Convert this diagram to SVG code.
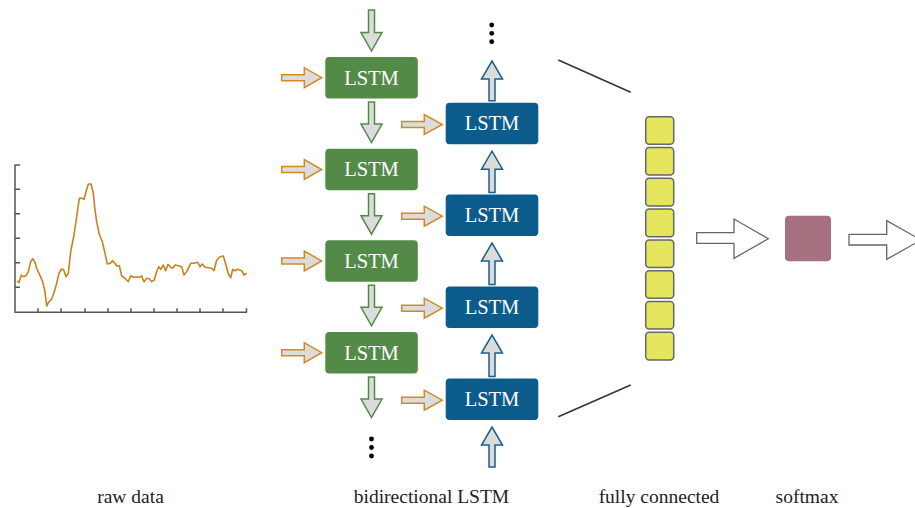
<svg xmlns="http://www.w3.org/2000/svg" width="915" height="508" viewBox="0 0 915 508">
<style>
.lbl{font-family:"Liberation Serif","Times New Roman",serif;font-size:19.5px;fill:#222;text-anchor:middle}
.lt{font-family:"Liberation Serif","Times New Roman",serif;font-size:20.5px;fill:#fff;text-anchor:middle}
.gbox{fill:#538a48}
.bbox{fill:#0b5b8c}
.ga{fill:#dcdcdc;stroke:#4f8a47;stroke-width:1.5;stroke-linejoin:miter}
.ba{fill:#dcdcdc;stroke:#1b5f8d;stroke-width:1.5}
.oa{fill:#dcdcdc;stroke:#d38a22;stroke-width:1.5}
.wa{fill:#fff;stroke:#666;stroke-width:1.3}
.fc{fill:#e6e65e;stroke:#666;stroke-width:1.5}
.ax{stroke:#555;stroke-width:1.5;fill:none}
.dot{fill:#000}
</style>
<rect width="915" height="508" fill="#fff"/>

<g id="raw-data">
<path class="ax" d="M15,164.5V312.3H247 M15,165h5 M15,189.3h5 M15,213.7h5 M15,238.3h5 M15,262.7h5 M15,287.3h5 M38,312.3v-4 M61,312.3v-4 M85,312.3v-4 M108,312.3v-4 M131,312.3v-4 M154,312.3v-4 M177,312.3v-4 M200,312.3v-4 M223,312.3v-4 M246.5,312.3v-4"/>
<polyline fill="none" stroke="#c8821f" stroke-width="1.6" stroke-linejoin="round" points="17.3,280.7 19,282.7 21.3,275 23.3,276.7 26,275.7 28.3,271.7 30.7,261.7 32.7,258.7 34.7,261.7 36.7,268.3 39,273.3 42.3,280.7 44.7,290 46.7,306 49,301.7 51.7,299 54.3,291.7 56.7,283.3 59,273.3 61.7,269 63.7,270 66,276.7 68.3,273.3 70.7,251.7 74,235 76.7,216.7 79.3,198.3 82,198.3 84,199.3 86,191.7 88.3,184 91,184 93.3,193.3 95,210 96.7,221.7 99,233.3 102.3,241.7 105,253.3 107.3,264 110,263.3 112.7,260.7 115,263.3 116.7,266 119.3,265.7 121.7,276 125,278.3 128.3,281.7 130.7,275.7 133.3,277.3 136.7,276.7 139.3,277.3 141.7,276 144,281.7 146.7,278.3 149.3,278.7 151.7,281.7 154.3,280 156.7,271.7 158.7,266.7 160.7,269.3 163.3,265 165.7,270.7 168,264.3 170.7,267.3 172.7,268.3 175.3,265 178.3,265.7 181.7,266.7 184,275 186.7,271.7 190.7,263.3 194,263.3 197.7,262.3 200,266.7 202.3,264 205,267.3 208.3,267.7 211.7,268.3 214,270.7 216.7,260 220,256.7 223.3,256 226,265 228.3,274 230.7,277.7 232.7,269.3 235,270.7 237.7,269.3 241.7,270.7 244,275 246.7,273.3"/>
</g>

<g id="forward-lstm">
<g id="f1"><rect class="gbox" x="325.3" y="57" width="92.5" height="41.5" rx="4"/><text class="lt" x="371.5" y="84.5">LSTM</text></g>
<g id="f2"><rect class="gbox" x="325.3" y="148.7" width="92.5" height="41.5" rx="4"/><text class="lt" x="371.5" y="176.2">LSTM</text></g>
<g id="f3"><rect class="gbox" x="325.3" y="240.3" width="92.5" height="41.5" rx="4"/><text class="lt" x="371.5" y="267.8">LSTM</text></g>
<g id="f4"><rect class="gbox" x="325.3" y="332" width="92.5" height="41.5" rx="4"/><text class="lt" x="371.5" y="359.5">LSTM</text></g>
</g>

<g id="backward-lstm">
<g id="b1"><rect class="bbox" x="445.7" y="102.7" width="92.6" height="41.5" rx="4"/><text class="lt" x="492" y="130.2">LSTM</text></g>
<g id="b2"><rect class="bbox" x="445.7" y="194.5" width="92.6" height="41.5" rx="4"/><text class="lt" x="492" y="222">LSTM</text></g>
<g id="b3"><rect class="bbox" x="445.7" y="286.5" width="92.6" height="41.5" rx="4"/><text class="lt" x="492" y="314">LSTM</text></g>
<g id="b4"><rect class="bbox" x="445.7" y="378.5" width="92.6" height="41.5" rx="4"/><text class="lt" x="492" y="406">LSTM</text></g>
</g>

<g id="fully-connected">
<rect class="fc" x="645.7" y="116.7" width="28" height="27.6" rx="3.5"/>
<rect class="fc" x="645.7" y="147.5" width="28" height="27.6" rx="3.5"/>
<rect class="fc" x="645.7" y="178.3" width="28" height="27.6" rx="3.5"/>
<rect class="fc" x="645.7" y="209.1" width="28" height="27.6" rx="3.5"/>
<rect class="fc" x="645.7" y="239.9" width="28" height="27.6" rx="3.5"/>
<rect class="fc" x="645.7" y="270.7" width="28" height="27.6" rx="3.5"/>
<rect class="fc" x="645.7" y="301.5" width="28" height="27.6" rx="3.5"/>
<rect class="fc" x="645.7" y="332.3" width="28" height="27.6" rx="3.5"/>
</g>

<g id="softmax">
<rect x="785" y="215.7" width="46" height="45.6" rx="4" fill="#a67280"/>
</g>

<g id="connectors">
<path class="ga" d="M368.5,10H374.5V32.5H382V32.5L371.5,51L361,32.5H368.5Z"/>
<path class="ga" d="M368.5,102H374.5V124H382L371.5,142.5L361,124H368.5Z"/>
<path class="ga" d="M368.5,193.7H374.5V215.7H382L371.5,234.2L361,215.7H368.5Z"/>
<path class="ga" d="M368.5,285.3H374.5V307.3H382L371.5,325.8L361,307.3H368.5Z"/>
<path class="ga" d="M368.5,377H374.5V399H382L371.5,417.5L361,399H368.5Z"/>
<path class="ba" d="M489,100.7V79H481.5L492,61L502.5,79H495V100.7Z"/>
<path class="ba" d="M489,192.5V169.2H481.5L492,151.2L502.5,169.2H495V192.5Z"/>
<path class="ba" d="M489,284.5V261H481.5L492,243L502.5,261H495V284.5Z"/>
<path class="ba" d="M489,376.5V353H481.5L492,335L502.5,353H495V376.5Z"/>
<path class="ba" d="M489,467V445H481.5L492,427L502.5,445H495V467Z"/>
<path class="oa" d="M281.7,74.7H304.3V67.7L321.7,77.7L304.3,87.7V80.7H281.7Z"/>
<path class="oa" d="M281.7,166.5H304.3V159.5L321.7,169.5L304.3,179.5V172.5H281.7Z"/>
<path class="oa" d="M281.7,258H304.3V251L321.7,261L304.3,271V264H281.7Z"/>
<path class="oa" d="M281.7,349.7H304.3V342.7L321.7,352.7L304.3,362.7V355.7H281.7Z"/>
<path class="oa" d="M401.7,121.5H424.3V114.5L442.3,124.5L424.3,134.5V127.5H401.7Z"/>
<path class="oa" d="M401.7,213.2H424.3V206.2L442.3,216.2L424.3,226.2V219.2H401.7Z"/>
<path class="oa" d="M401.7,305.2H424.3V298.2L442.3,308.2L424.3,318.2V311.2H401.7Z"/>
<path class="oa" d="M401.7,397.2H424.3V390.2L442.3,400.2L424.3,410.2V403.2H401.7Z"/>
<line x1="558.3" y1="60" x2="630.7" y2="92.3" stroke="#333" stroke-width="1.5"/>
<line x1="558.3" y1="416.7" x2="630.7" y2="385" stroke="#333" stroke-width="1.5"/>
<path class="wa" d="M696.7,232.7H734V219L768.3,238.7L734,258.3V243.3H696.7Z"/>
<path class="wa" d="M849,234.3H886.7V220.7L921,240L886.7,259.3V245H849Z"/>
<circle class="dot" cx="491.7" cy="25" r="2.4"/>
<circle class="dot" cx="491.7" cy="33.3" r="2.4"/>
<circle class="dot" cx="491.7" cy="41.7" r="2.4"/>
<circle class="dot" cx="371.5" cy="439" r="2.4"/>
<circle class="dot" cx="371.5" cy="447.5" r="2.4"/>
<circle class="dot" cx="371.5" cy="456" r="2.4"/>
</g>

<g id="labels">
<text class="lbl" x="130.5" y="502.5">raw data</text>
<text class="lbl" x="431.5" y="502.5">bidirectional LSTM</text>
<text class="lbl" x="659" y="502.5">fully connected</text>
<text class="lbl" x="807" y="502.5">softmax</text>
</g>
</svg>
